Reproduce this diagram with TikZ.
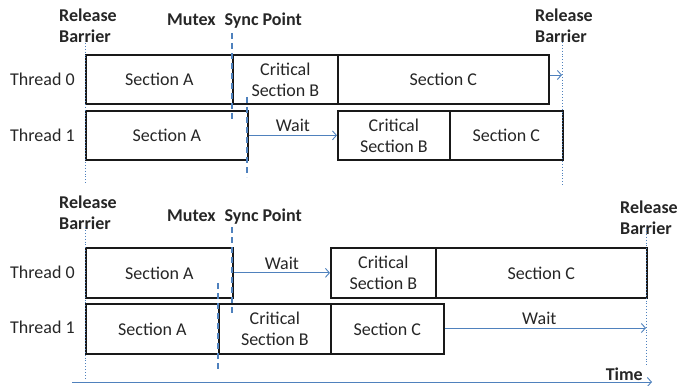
\documentclass[tikz,border=0pt]{standalone}
\usepackage{fontspec}
\setmainfont{Carlito}
\usetikzlibrary{arrows.meta}
\definecolor{lineblue}{RGB}{79,129,189}
\definecolor{txt}{RGB}{38,38,38}
\tikzset{
  box/.style={draw=black!90, line width=1.7pt, anchor=north west, inner sep=0pt,
    minimum height=49pt, align=center, text=txt, font=\fontsize{18}{21}\selectfont},
  lbl/.style={text=txt, font=\fontsize{18}{21}\selectfont, inner sep=0pt},
  blbl/.style={text=txt, font=\bfseries\fontsize{18}{21}\selectfont, inner sep=0pt, align=left},
  barrier/.style={draw=lineblue, line width=0.9pt, dotted},
  mutex/.style={draw=lineblue, line width=1.1pt, dash pattern=on 6pt off 4pt},
  waitarrow/.style={draw=lineblue, line width=0.9pt, -{Straight Barb[length=4pt,width=9pt]}},
}
\begin{document}
\begin{tikzpicture}[x=1pt,y=-1pt]
\useasboundingbox (0,0) rectangle (679,385);
% ---------- top diagram ----------
\node[blbl, anchor=north west] (rbl1) at (59,9) {Release\\Barrier};
\node[blbl, anchor=north west] (rbr1) at (535,9) {Release\\Barrier};
\node[blbl, anchor=west] (msp1) at (167,21) {Mutex\hspace{0.5em}Sync Point};
\node[lbl, anchor=west] (th01) at (10,79) {Thread 0};
\node[lbl, anchor=west] (th11) at (10,135) {Thread 1};
\node[box, minimum width=147pt] (a0) at (85,54) {Section A};
\node[box, minimum width=105pt] (b0) at (232,54) {Critical\\Section B};
\node[box, minimum width=211pt] (c0) at (337,54) {Section C};
\node[box, minimum width=162pt] (a1) at (85,110) {Section A};
\node[box, minimum width=112pt] (b1) at (337,110) {Critical\\Section B};
\node[box, minimum width=113pt] (c1) at (449,110) {Section C};
\coordinate (lb1t) at (85,43); \coordinate (lb1b) at (85,185);
\coordinate (rb1t) at (562,42); \coordinate (rb1b) at (562,185);
\coordinate (m01t) at (232,33); \coordinate (m01b) at (232,120);
\coordinate (m11t) at (247,97); \coordinate (m11b) at (247,177);
\draw[barrier] (lb1t) -- (lb1b);
\draw[barrier] (rb1t) -- (rb1b);
\draw[mutex] (m01t) -- (m01b);
\draw[mutex] (m11t) -- (m11b);
\coordinate (c0end) at (562,75);
\draw[waitarrow] (c0.east |- c0end) -- (c0end);
\draw[waitarrow] (a1.east) -- (b1.west) node[lbl, midway, above=3pt] (w1) {Wait};
% ---------- bottom diagram ----------
\node[blbl, anchor=north west] (rbl2) at (59,196) {Release\\Barrier};
\node[blbl, anchor=north west] (rbr2) at (620,201) {Release\\Barrier};
\node[blbl, anchor=west] (msp2) at (167,217) {Mutex\hspace{0.5em}Sync Point};
\node[lbl, anchor=west] (th02) at (10,272) {Thread 0};
\node[lbl, anchor=west] (th12) at (10,327) {Thread 1};
\node[box, minimum width=147pt, minimum height=50pt] (a2) at (85,247) {Section A};
\node[box, minimum width=105pt, minimum height=50pt] (b2) at (330,247) {Critical\\Section B};
\node[box, minimum width=211pt, minimum height=50pt] (c2) at (435,247) {Section C};
\node[box, minimum width=133pt, minimum height=50pt] (a3) at (85,303) {Section A};
\node[box, minimum width=112pt, minimum height=50pt] (b3) at (218,303) {Critical\\Section B};
\node[box, minimum width=113pt, minimum height=50pt] (c3) at (330,303) {Section C};
\coordinate (lb2t) at (85,227); \coordinate (lb2b) at (85,380);
\coordinate (rb2t) at (646,228); \coordinate (rb2b) at (646,365);
\coordinate (m02t) at (232,227); \coordinate (m02b) at (232,313);
\coordinate (m12t) at (218,283); \coordinate (m12b) at (218,370);
\draw[barrier] (lb2t) -- (lb2b);
\draw[barrier] (rb2t) -- (rb2b);
\draw[mutex] (m02t) -- (m02b);
\draw[mutex] (m12t) -- (m12b);
\draw[waitarrow] (a2.east) -- (b2.west) node[lbl, midway, above=3pt] (w2) {Wait};
\coordinate (w3end) at (646,328);
\draw[waitarrow] (c3.east |- w3end) -- (w3end) node[lbl, pos=0.47, above=3pt] (w3) {Wait};
% ---------- time axis ----------
\coordinate (ts) at (72,382); \coordinate (te) at (652,382);
\draw[waitarrow] (ts) -- (te);
\node[blbl, anchor=south east] (time) at (643,381) {Time};
\end{tikzpicture}
\end{document}
